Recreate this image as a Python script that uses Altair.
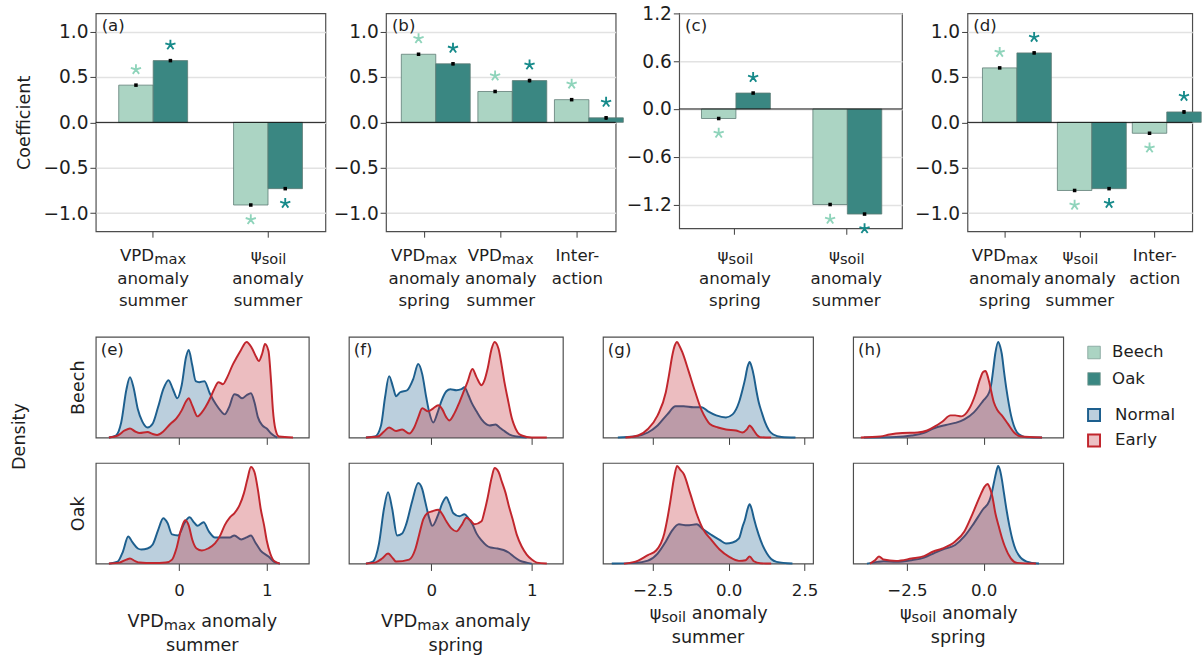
import altair as alt
import pandas as pd

FONT = "DejaVu Sans"
INK = "#1e1e1e"

SPECIES = ["Beech", "Oak"]
CONDITIONS = ["Normal", "Early"]

BEECH_FILL = "#abd4c3"
OAK_FILL = "#3a8782"
BEECH_STAR = "#8fd4bb"
OAK_STAR = "#168a8a"
NORMAL_LINE = "#1d5f8e"
EARLY_LINE = "#c1262d"
NORMAL_FILL = "#bccfdd"
EARLY_FILL = "#ecc1c4"

# ---------------- coefficient panels ----------------
A_KEYS = ["vpd_summer", "psi_summer"]
A_MAIN = ["VPD", "ψ"]
A_SUB = ["max", "soil"]
A_REST = ["anomaly\nsummer", "anomaly\nsummer"]
A_BEECH = [0.41, -0.91]
A_OAK = [0.68, -0.73]
A_BEECH_SE = [0.01, 0.01]
A_OAK_SE = [0.01, 0.01]

B_KEYS = ["vpd_spring", "vpd_summer", "inter"]
B_MAIN = ["VPD", "VPD", "Inter-"]
B_SUB = ["max", "max", ""]
B_REST = ["anomaly\nspring", "anomaly\nsummer", "action"]
B_BEECH = [0.75, 0.34, 0.25]
B_OAK = [0.645, 0.46, 0.05]
B_BEECH_SE = [0.01, 0.01, 0.01]
B_OAK_SE = [0.015, 0.02, 0.02]

C_KEYS = ["psi_spring", "psi_summer"]
C_MAIN = ["ψ", "ψ"]
C_SUB = ["soil", "soil"]
C_REST = ["anomaly\nspring", "anomaly\nsummer"]
C_BEECH = [-0.12, -1.20]
C_OAK = [0.20, -1.32]
C_BEECH_SE = [0.01, 0.01]
C_OAK_SE = [0.01, 0.01]

D_KEYS = ["vpd_spring", "psi_summer", "inter"]
D_MAIN = ["VPD", "ψ", "Inter-"]
D_SUB = ["max", "soil", ""]
D_REST = ["anomaly\nspring", "anomaly\nsummer", "action"]
D_BEECH = [0.60, -0.75, -0.12]
D_OAK = [0.765, -0.73, 0.115]
D_BEECH_SE = [0.01, 0.01, 0.01]
D_OAK_SE = [0.015, 0.01, 0.02]

TICKS_HALF = [-1.0, -0.75, -0.5, -0.25, 0.0, 0.25, 0.5, 0.75, 1.0]
TICKS_C = [-1.2, -0.9, -0.6, -0.3, 0.0, 0.3, 0.6, 0.9, 1.2]

# ---------------- density curves (x, relative density) ----------------
E_BEECH_NORMAL = [(-0.80, 0), (-0.72, 0.02), (-0.66, 0.15), (-0.60, 0.48), (-0.56, 0.60), (-0.52, 0.50),
                  (-0.47, 0.28), (-0.42, 0.16), (-0.36, 0.10), (-0.30, 0.14), (-0.24, 0.30), (-0.18, 0.48),
                  (-0.12, 0.57), (-0.07, 0.48), (-0.02, 0.39), (0.03, 0.52), (0.08, 0.80), (0.11, 0.87),
                  (0.15, 0.72), (0.19, 0.56), (0.23, 0.55), (0.29, 0.56), (0.35, 0.44), (0.42, 0.33),
                  (0.48, 0.26), (0.52, 0.23), (0.57, 0.30), (0.63, 0.43), (0.67, 0.42), (0.72, 0.39),
                  (0.77, 0.42), (0.82, 0.44), (0.86, 0.35), (0.90, 0.20), (0.95, 0.12), (1.00, 0.09),
                  (1.05, 0.04), (1.12, 0.0)]
E_BEECH_EARLY = [(-0.80, 0), (-0.70, 0.02), (-0.62, 0.07), (-0.56, 0.09), (-0.50, 0.06), (-0.45, 0.045),
                 (-0.36, 0.055), (-0.30, 0.035), (-0.25, 0.025), (-0.18, 0.06), (-0.10, 0.135), (-0.03, 0.19),
                 (0.03, 0.27), (0.08, 0.36), (0.11, 0.39), (0.15, 0.32), (0.21, 0.21), (0.26, 0.25),
                 (0.30, 0.30), (0.36, 0.40), (0.40, 0.48), (0.45, 0.55), (0.50, 0.53), (0.55, 0.60),
                 (0.61, 0.72), (0.66, 0.80), (0.70, 0.86), (0.77, 0.95), (0.83, 0.89), (0.88, 0.80),
                 (0.91, 0.76), (0.95, 0.84), (0.98, 0.93), (1.02, 0.86), (1.05, 0.55), (1.07, 0.28),
                 (1.10, 0.08), (1.14, 0.01), (1.30, 0)]
E_OAK_NORMAL = [(-0.80, 0), (-0.70, 0.02), (-0.64, 0.12), (-0.58, 0.27), (-0.53, 0.21), (-0.47, 0.15),
                (-0.43, 0.14), (-0.36, 0.15), (-0.30, 0.19), (-0.24, 0.33), (-0.18, 0.45), (-0.13, 0.40),
                (-0.08, 0.29), (-0.01, 0.28), (0.06, 0.40), (0.12, 0.46), (0.17, 0.41), (0.21, 0.375),
                (0.28, 0.41), (0.34, 0.32), (0.41, 0.26), (0.52, 0.26), (0.58, 0.26), (0.63, 0.28),
                (0.71, 0.24), (0.77, 0.26), (0.82, 0.28), (0.87, 0.21), (0.93, 0.13), (1.02, 0.07),
                (1.08, 0.02), (1.15, 0)]
E_OAK_EARLY = [(-0.80, 0), (-0.68, 0.01), (-0.60, 0.04), (-0.56, 0.05), (-0.50, 0.025), (-0.45, 0.01),
               (-0.30, 0.005), (-0.15, 0.01), (-0.08, 0.04), (-0.03, 0.15), (0.02, 0.33), (0.07, 0.43),
               (0.11, 0.38), (0.15, 0.24), (0.20, 0.15), (0.26, 0.13), (0.33, 0.15), (0.41, 0.20),
               (0.47, 0.28), (0.52, 0.38), (0.58, 0.46), (0.63, 0.50), (0.69, 0.58), (0.74, 0.70),
               (0.78, 0.84), (0.82, 0.96), (0.86, 0.91), (0.90, 0.73), (0.93, 0.55), (0.97, 0.38),
               (1.00, 0.23), (1.04, 0.10), (1.08, 0.03), (1.15, 0)]

F_BEECH_NORMAL = [(-0.65, 0), (-0.56, 0.01), (-0.50, 0.12), (-0.46, 0.40), (-0.42, 0.61), (-0.38, 0.50),
                  (-0.35, 0.41), (-0.31, 0.45), (-0.24, 0.47), (-0.18, 0.58), (-0.13, 0.73), (-0.09, 0.63),
                  (-0.05, 0.40), (-0.02, 0.25), (0.02, 0.15), (0.06, 0.24), (0.10, 0.36), (0.15, 0.46),
                  (0.19, 0.48), (0.25, 0.47), (0.30, 0.48), (0.33, 0.50), (0.37, 0.42), (0.40, 0.35),
                  (0.45, 0.26), (0.50, 0.18), (0.55, 0.13), (0.58, 0.12), (0.64, 0.13), (0.68, 0.10),
                  (0.72, 0.07), (0.78, 0.03), (0.85, 0.01), (0.95, 0)]
F_BEECH_EARLY = [(-0.65, 0), (-0.53, 0.01), (-0.47, 0.06), (-0.42, 0.10), (-0.35, 0.065), (-0.29, 0.08),
                 (-0.22, 0.04), (-0.17, 0.10), (-0.13, 0.20), (-0.09, 0.29), (-0.03, 0.26), (0.02, 0.29),
                 (0.07, 0.32), (0.11, 0.28), (0.15, 0.20), (0.18, 0.17), (0.23, 0.24), (0.28, 0.35),
                 (0.32, 0.45), (0.36, 0.55), (0.41, 0.68), (0.45, 0.60), (0.50, 0.52), (0.53, 0.57),
                 (0.56, 0.68), (0.60, 0.88), (0.63, 0.95), (0.67, 0.88), (0.70, 0.72), (0.73, 0.54),
                 (0.76, 0.39), (0.80, 0.20), (0.82, 0.135), (0.86, 0.05), (0.90, 0.02), (1.00, 0.0),
                 (1.15, 0)]
F_OAK_NORMAL = [(-0.65, 0), (-0.58, 0.02), (-0.52, 0.20), (-0.47, 0.55), (-0.43, 0.71), (-0.39, 0.55),
                (-0.34, 0.28), (-0.29, 0.30), (-0.25, 0.39), (-0.19, 0.62), (-0.13, 0.80), (-0.09, 0.74),
                (-0.06, 0.615), (-0.02, 0.45), (0.01, 0.375), (0.07, 0.49), (0.11, 0.60), (0.15, 0.66),
                (0.18, 0.60), (0.22, 0.50), (0.28, 0.47), (0.33, 0.49), (0.37, 0.45), (0.41, 0.39),
                (0.45, 0.30), (0.50, 0.23), (0.55, 0.18), (0.59, 0.16), (0.66, 0.15), (0.72, 0.135),
                (0.77, 0.11), (0.82, 0.07), (0.88, 0.03), (0.95, 0.01), (1.00, 0)]
F_OAK_EARLY = [(-0.65, 0), (-0.56, 0.01), (-0.49, 0.05), (-0.43, 0.10), (-0.38, 0.05), (-0.35, 0.02),
               (-0.22, 0.04), (-0.16, 0.14), (-0.12, 0.29), (-0.08, 0.44), (-0.04, 0.50), (0.01, 0.52),
               (0.07, 0.535), (0.11, 0.49), (0.15, 0.42), (0.20, 0.35), (0.25, 0.32), (0.30, 0.38),
               (0.35, 0.455), (0.39, 0.43), (0.43, 0.39), (0.50, 0.42), (0.53, 0.52), (0.56, 0.65),
               (0.60, 0.85), (0.63, 0.95), (0.67, 0.91), (0.70, 0.82), (0.74, 0.70), (0.77, 0.58),
               (0.81, 0.44), (0.85, 0.29), (0.90, 0.17), (0.95, 0.09), (1.00, 0.04), (1.05, 0.01),
               (1.15, 0)]

G_BEECH_NORMAL = [(-3.65, 0), (-3.10, 0.01), (-2.66, 0.05), (-2.34, 0.12), (-2.02, 0.23), (-1.75, 0.31),
                  (-1.48, 0.31), (-1.16, 0.30), (-0.89, 0.30), (-0.68, 0.26), (-0.41, 0.22), (-0.09, 0.20),
                  (0.13, 0.23), (0.34, 0.35), (0.46, 0.48), (0.54, 0.58), (0.62, 0.70), (0.69, 0.75),
                  (0.76, 0.70), (0.83, 0.61), (0.91, 0.47), (0.99, 0.35), (1.10, 0.24), (1.20, 0.15),
                  (1.33, 0.07), (1.47, 0.03), (1.74, 0.005), (2.20, 0)]
G_BEECH_EARLY = [(-3.40, 0), (-2.98, 0.02), (-2.66, 0.085), (-2.34, 0.22), (-2.07, 0.45), (-1.96, 0.63),
                 (-1.86, 0.81), (-1.78, 0.91), (-1.70, 0.95), (-1.62, 0.91), (-1.53, 0.85), (-1.32, 0.66),
                 (-1.11, 0.46), (-0.89, 0.27), (-0.75, 0.19), (-0.62, 0.135), (-0.35, 0.10), (-0.09, 0.08),
                 (0.24, 0.07), (0.45, 0.05), (0.60, 0.08), (0.69, 0.12), (0.76, 0.10), (0.83, 0.07),
                 (0.95, 0.02), (1.04, 0.003), (1.40, 0)]
G_OAK_NORMAL = [(-3.85, 0), (-3.09, 0.007), (-2.66, 0.03), (-2.34, 0.10), (-2.07, 0.22), (-1.86, 0.33),
                (-1.64, 0.39), (-1.37, 0.38), (-1.05, 0.39), (-0.84, 0.34), (-0.57, 0.285), (-0.30, 0.235),
                (-0.09, 0.20), (0.13, 0.21), (0.34, 0.25), (0.46, 0.37), (0.54, 0.44), (0.62, 0.54),
                (0.69, 0.59), (0.76, 0.54), (0.83, 0.45), (0.99, 0.285), (1.12, 0.18), (1.26, 0.10),
                (1.40, 0.045), (1.58, 0.017), (2.10, 0)]
G_OAK_EARLY = [(-3.45, 0), (-2.98, 0.03), (-2.66, 0.085), (-2.39, 0.13), (-2.12, 0.30), (-2.01, 0.46),
               (-1.91, 0.64), (-1.80, 0.85), (-1.70, 0.97), (-1.59, 0.93), (-1.48, 0.89), (-1.27, 0.70),
               (-1.05, 0.49), (-0.84, 0.34), (-0.57, 0.235), (-0.30, 0.14), (0.02, 0.067), (0.34, 0.027),
               (0.56, 0.034), (0.69, 0.07), (0.83, 0.023), (1.04, 0.003), (1.40, 0)]

H_BEECH_NORMAL = [(-3.90, 0), (-2.85, 0.005), (-2.35, 0.02), (-1.94, 0.046), (-1.64, 0.09), (-1.23, 0.125),
                  (-0.93, 0.145), (-0.63, 0.18), (-0.32, 0.25), (-0.02, 0.365), (0.18, 0.45), (0.24, 0.52),
                  (0.30, 0.65), (0.38, 0.84), (0.47, 0.95), (0.54, 0.90), (0.59, 0.83), (0.66, 0.66),
                  (0.74, 0.48), (0.82, 0.33), (0.89, 0.22), (0.98, 0.12), (1.09, 0.05), (1.25, 0.015),
                  (1.40, 0.003), (1.90, 0)]
H_BEECH_EARLY = [(-4.00, 0), (-3.36, 0.01), (-3.06, 0.03), (-2.65, 0.045), (-2.15, 0.05), (-1.84, 0.07),
                 (-1.59, 0.11), (-1.34, 0.16), (-1.08, 0.22), (-0.93, 0.22), (-0.73, 0.21), (-0.48, 0.28),
                 (-0.27, 0.43), (-0.12, 0.58), (-0.02, 0.65), (0.06, 0.66), (0.12, 0.62), (0.18, 0.55),
                 (0.33, 0.35), (0.45, 0.27), (0.59, 0.22), (0.79, 0.135), (0.99, 0.05), (1.19, 0.013),
                 (1.90, 0)]
H_OAK_NORMAL = [(-3.80, 0), (-3.46, 0.017), (-3.26, 0.023), (-2.85, 0.017), (-2.35, 0.034), (-1.94, 0.06),
                (-1.64, 0.10), (-1.34, 0.14), (-0.93, 0.185), (-0.63, 0.27), (-0.32, 0.40), (-0.02, 0.54),
                (0.18, 0.62), (0.26, 0.70), (0.33, 0.80), (0.40, 0.90), (0.47, 0.97), (0.53, 0.93),
                (0.59, 0.84), (0.66, 0.70), (0.74, 0.54), (0.84, 0.37), (0.94, 0.235), (1.04, 0.14),
                (1.14, 0.084), (1.40, 0.02), (1.80, 0)]
H_OAK_EARLY = [(-3.70, 0), (-3.55, 0.03), (-3.41, 0.07), (-3.26, 0.04), (-2.85, 0.027), (-2.35, 0.05),
               (-1.94, 0.074), (-1.64, 0.12), (-1.34, 0.15), (-0.93, 0.22), (-0.63, 0.32), (-0.37, 0.49),
               (-0.12, 0.67), (0.03, 0.765), (0.13, 0.79), (0.20, 0.75), (0.28, 0.67), (0.38, 0.50),
               (0.49, 0.37), (0.59, 0.26), (0.69, 0.17), (0.89, 0.05), (1.09, 0.007), (1.70, 0)]

E_XDOM = [-0.95, 1.48]
F_XDOM = [-0.82, 1.31]
G_XDOM = [-4.14, 2.78]
H_XDOM = [-4.25, 2.59]

STAR = "M0,0L0,-1M0,0L0.95,-0.31M0,0L0.59,0.81M0,0L-0.59,0.81M0,0L-0.95,-0.31"


def txt(df, **kw):
    base = dict(font=FONT, color=INK)
    base.update(kw)
    return alt.Chart(df).mark_text(**base)


def bar_panel(tag, keys, mains, subs, rests, beech, oak, beech_se, oak_se,
              ydom, yticks, major, width, height, ytitle, min_extent):
    rows = []
    for k, b, o, bs, osd in zip(keys, beech, oak, beech_se, oak_se):
        rows.append({"cat": k, "species": "Beech", "value": b, "lo": b - bs, "hi": b + bs})
        rows.append({"cat": k, "species": "Oak", "value": o, "lo": o - osd, "hi": o + osd})
    df = pd.DataFrame(rows)
    lab = pd.DataFrame({"cat": keys, "main": mains, "sub": subs, "rest": rests})
    test = f"abs(datum.value / {major} - round(datum.value / {major})) < 0.01"

    x = alt.X("cat:N", sort=keys, title=None,
              scale=alt.Scale(paddingInner=0.4, paddingOuter=0.2),
              axis=alt.Axis(labels=False, ticks=True, tickSize=6, domain=False, grid=False))
    xo = alt.XOffset("species:N", sort=SPECIES, scale=alt.Scale(paddingInner=0, paddingOuter=0))
    axis_kw = dict(values=yticks, format=".1f", labelExpr=f"{test} ? datum.label : ''",
                   tickSize={"condition": {"test": test, "value": 6}, "value": 3},
                   grid=True, gridColor="#e2e2e2", gridWidth=1.5,
                   gridOpacity={"condition": {"test": test, "value": 1}, "value": 0},
                   domain=False, labelFontSize=19, labelPadding=2, minExtent=min_extent,
                   titleFontSize=18, titlePadding=9, title=ytitle)
    y = alt.Y("value:Q", scale=alt.Scale(domain=ydom, nice=False), axis=alt.Axis(**axis_kw))

    bars = alt.Chart(df).mark_bar(stroke="#5d7b75", strokeWidth=0.8).encode(
        x=x, xOffset=xo, y=y,
        fill=alt.Fill("species:N", scale=alt.Scale(domain=SPECIES, range=[BEECH_FILL, OAK_FILL]), legend=None))
    zero = alt.Chart(pd.DataFrame({"value": [0.0]})).mark_rule(color="#111111", strokeWidth=1).encode(y="value:Q")
    err = alt.Chart(df).mark_rule(color="black", strokeWidth=1.6).encode(x=x, xOffset=xo, y="lo:Q", y2="hi:Q")
    dots = alt.Chart(df).mark_point(shape="square", filled=True, color="black", size=13, opacity=1).encode(
        x=x, xOffset=xo, y="value:Q")
    star_col = alt.Color("species:N", scale=alt.Scale(domain=SPECIES, range=[BEECH_STAR, OAK_STAR]), legend=None)
    stars_pos = alt.Chart(df).transform_filter("datum.value >= 0").mark_point(
        shape=STAR, filled=False, strokeWidth=1.9, size=120, yOffset=-16, opacity=1).encode(
        x=x, xOffset=xo, y="value:Q", color=star_col)
    stars_neg = alt.Chart(df).transform_filter("datum.value < 0").mark_point(
        shape=STAR, filled=False, strokeWidth=1.9, size=120, yOffset=15, opacity=1).encode(
        x=x, xOffset=xo, y="value:Q", color=star_col)

    y1 = 253
    y2 = 277
    vpd = txt(lab, align="right", baseline="alphabetic", dx=1, fontSize=17).transform_filter(
        "datum.sub == 'max'").encode(x=x, y=alt.value(y1), text="main:N")
    vpd_s = txt(lab, align="left", baseline="alphabetic", dx=1, dy=3, fontSize=15).transform_filter(
        "datum.sub == 'max'").encode(x=x, y=alt.value(y1), text="sub:N")
    psi = txt(lab, align="right", baseline="alphabetic", dx=-6.5, fontSize=17).transform_filter(
        "datum.sub == 'soil'").encode(x=x, y=alt.value(y1), text="main:N")
    psi_s = txt(lab, align="left", baseline="alphabetic", dx=-6.5, dy=3, fontSize=15).transform_filter(
        "datum.sub == 'soil'").encode(x=x, y=alt.value(y1), text="sub:N")
    plain = txt(lab, align="center", baseline="alphabetic", fontSize=17).transform_filter(
        "datum.sub == ''").encode(x=x, y=alt.value(y1), text="main:N")
    rest = txt(lab, align="center", baseline="alphabetic", fontSize=17, lineBreak="\n", lineHeight=22).encode(
        x=x, y=alt.value(y2), text="rest:N")
    tagc = txt(pd.DataFrame({"t": [tag]}), align="left", baseline="top", fontSize=17).encode(
        x=alt.value(6), y=alt.value(5), text="t:N")
    return alt.layer(bars, zero, err, dots, stars_pos, stars_neg, vpd, vpd_s, psi, psi_s, plain, rest, tagc
                     ).properties(width=width, height=height)


def dens_panel(normal, early, xdom, xticks, xfmt, width, height, show_labels,
               ytitle=None, tag=None, xtitle=None, density_label=False):
    df = pd.concat([pd.DataFrame(normal, columns=["x", "d"]).assign(cond="Normal"),
                    pd.DataFrame(early, columns=["x", "d"]).assign(cond="Early")], ignore_index=True)
    x = alt.X("x:Q", title=None, scale=alt.Scale(domain=xdom, nice=False, zero=False),
              axis=alt.Axis(values=xticks, format=xfmt, labels=show_labels, tickSize=7, grid=False,
                            domain=False, labelFontSize=17, labelPadding=13))
    if ytitle:
        yax = alt.Axis(title=ytitle, labels=False, ticks=False, domain=False, grid=False,
                       titleFontSize=18, titlePadding=9)
        y = alt.Y("d:Q", scale=alt.Scale(domain=[0, 1], nice=False), axis=yax, stack=None)
    else:
        y = alt.Y("d:Q", scale=alt.Scale(domain=[0, 1], nice=False), axis=None, stack=None)
    layers = []
    for cond, col in (("Normal", NORMAL_LINE), ("Early", EARLY_LINE)):
        sub = alt.Chart(df).transform_filter(f"datum.cond == '{cond}'")
        layers.append(sub.mark_area(interpolate="monotone", color=col, fillOpacity=0.3).encode(x=x, y=y))
        layers.append(sub.mark_line(interpolate="monotone", color=col, strokeWidth=2).encode(x=x, y=y))
    if tag:
        layers.append(txt(pd.DataFrame({"t": [tag]}), align="left", baseline="top", fontSize=17).encode(
            x=alt.value(5), y=alt.value(6), text="t:N"))
    if density_label:
        layers.append(txt(pd.DataFrame({"t": ["Density"]}), align="center", baseline="middle",
                          fontSize=18, angle=270).encode(x=alt.value(-77), y=alt.value(102), text="t:N"))
        # white spacer keeps the left edge of the lower block aligned with the upper block
        layers.append(txt(pd.DataFrame({"t": ["."]}), align="left", baseline="middle", fontSize=18,
                          color="white").encode(x=alt.value(-94), y=alt.value(102), text="t:N"))
    if xtitle:
        kind, line2, ya_off, yb_off = xtitle
        cx = width / 2
        ya = height + ya_off
        yb = height + yb_off
        if kind == "VPD":
            parts = [("VPD", "right", cx - 39.5, 0, 18), ("max", "left", cx - 39.5, 3, 15),
                     ("anomaly", "left", cx - 1.1, 0, 18)]
        else:
            parts = [("ψ", "right", cx - 47.7, 0, 18), ("soil", "left", cx - 47.7, 3, 15),
                     ("anomaly", "left", cx - 16.7, 0, 18)]
        for t, al, px, dy, fs in parts:
            layers.append(txt(pd.DataFrame({"t": [t]}), align=al, baseline="alphabetic", fontSize=fs, dy=dy)
                          .encode(x=alt.value(px), y=alt.value(ya), text="t:N"))
        layers.append(txt(pd.DataFrame({"t": [line2]}), align="center", baseline="alphabetic", fontSize=18)
                      .encode(x=alt.value(cx), y=alt.value(yb), text="t:N"))
    return alt.layer(*layers).properties(width=width, height=height)


# ---------------- top row ----------------
pa = bar_panel("(a)", A_KEYS, A_MAIN, A_SUB, A_REST, A_BEECH, A_OAK, A_BEECH_SE, A_OAK_SE,
               [-1.2, 1.2], TICKS_HALF, 0.5, 235, 223, "Coefficient", 55)
pb = bar_panel("(b)", B_KEYS, B_MAIN, B_SUB, B_REST, B_BEECH, B_OAK, B_BEECH_SE, B_OAK_SE,
               [-1.2, 1.2], TICKS_HALF, 0.5, 235, 223, None, 59)
pc = bar_panel("(c)", C_KEYS, C_MAIN, C_SUB, C_REST, C_BEECH, C_OAK, C_BEECH_SE, C_OAK_SE,
               [-1.5, 1.2], TICKS_C, 0.6, 228, 220, None, 55)
pdd = bar_panel("(d)", D_KEYS, D_MAIN, D_SUB, D_REST, D_BEECH, D_OAK, D_BEECH_SE, D_OAK_SE,
                [-1.2, 1.2], TICKS_HALF, 0.5, 230, 223, None, 64)
row1 = alt.hconcat(pa, pb, pc, pdd, spacing=0)

# ---------------- bottom grid ----------------
H = 103
e1 = dens_panel(E_BEECH_NORMAL, E_BEECH_EARLY, E_XDOM, [0, 1], "d", 218, H, False, "Beech", "(e)",
                density_label=True)
e2 = dens_panel(E_OAK_NORMAL, E_OAK_EARLY, E_XDOM, [0, 1], "d", 218, H, True, "Oak",
                xtitle=("VPD", "summer", 65, 89))
f1 = dens_panel(F_BEECH_NORMAL, F_BEECH_EARLY, F_XDOM, [0, 1], "d", 219, H, False, tag="(f)")
f2 = dens_panel(F_OAK_NORMAL, F_OAK_EARLY, F_XDOM, [0, 1], "d", 219, H, True,
                xtitle=("VPD", "spring", 65, 89))
g1 = dens_panel(G_BEECH_NORMAL, G_BEECH_EARLY, G_XDOM, [-2.5, 0, 2.5], ".1f", 215, H, False, tag="(g)")
g2 = dens_panel(G_OAK_NORMAL, G_OAK_EARLY, G_XDOM, [-2.5, 0, 2.5], ".1f", 215, H, True,
                xtitle=("psi", "summer", 57, 81))
h1 = dens_panel(H_BEECH_NORMAL, H_BEECH_EARLY, H_XDOM, [-2.5, 0], ".1f", 215, H, False, tag="(h)")
h2 = dens_panel(H_OAK_NORMAL, H_OAK_EARLY, H_XDOM, [-2.5, 0], ".1f", 215, H, True,
                xtitle=("psi", "spring", 57, 81))

# legend (drawn as a small chart)
sp_df = pd.DataFrame({"label": SPECIES})
cd_df = pd.DataFrame({"label": CONDITIONS})
y_sp = alt.Y("label:N", axis=None, scale=alt.Scale(type="point", domain=SPECIES, range=[16, 43], padding=0))
y_cd = alt.Y("label:N", axis=None, scale=alt.Scale(type="point", domain=CONDITIONS, range=[80, 106], padding=0))
leg_sp_sq = alt.Chart(sp_df).mark_square(size=165, stroke="#7f9f97", strokeWidth=0.8, opacity=1).encode(
    x=alt.value(-9.5), y=y_sp,
    fill=alt.Fill("label:N", scale=alt.Scale(domain=SPECIES, range=[BEECH_FILL, OAK_FILL]), legend=None))
leg_sp_tx = alt.Chart(sp_df).mark_text(align="left", baseline="middle", font=FONT, fontSize=17, color=INK).encode(
    x=alt.value(9), y=y_sp, text="label:N")
leg_cd_sq = alt.Chart(cd_df).mark_square(size=150, strokeWidth=2, opacity=1).encode(
    x=alt.value(-9.5), y=y_cd,
    fill=alt.Fill("label:N", scale=alt.Scale(domain=CONDITIONS, range=[NORMAL_FILL, EARLY_FILL]), legend=None),
    stroke=alt.Stroke("label:N", scale=alt.Scale(domain=CONDITIONS, range=[NORMAL_LINE, EARLY_LINE]), legend=None))
leg_cd_tx = alt.Chart(cd_df).mark_text(align="left", baseline="middle", font=FONT, fontSize=17, color=INK).encode(
    x=alt.value(12), y=y_cd, text="label:N")
legend = alt.layer(leg_sp_sq, leg_sp_tx, leg_cd_sq, leg_cd_tx).resolve_scale(
    y="independent", fill="independent").properties(
    width=10, height=H, view=alt.ViewBackground(strokeOpacity=0))

row2 = alt.concat(e1, f1, g1, h1, legend, e2, f2, g2, h2, columns=5,
                  spacing=alt.RowColnumber(row=26, column=41), bounds="flush", align="each")

chart = alt.vconcat(row1, row2, spacing=27).properties(
    padding={"left": 3, "top": -4, "right": 0, "bottom": 0}
).configure_axis(
    labelFont=FONT, titleFont=FONT, labelColor=INK, titleColor=INK, titleFontWeight="normal",
    tickColor="#3a3a3a", tickWidth=1
).configure_view(stroke="#4d4d4d", strokeWidth=1.2).configure_text(font=FONT)

chart.save("out.html", embed_options={"renderer": "svg", "actions": False})
